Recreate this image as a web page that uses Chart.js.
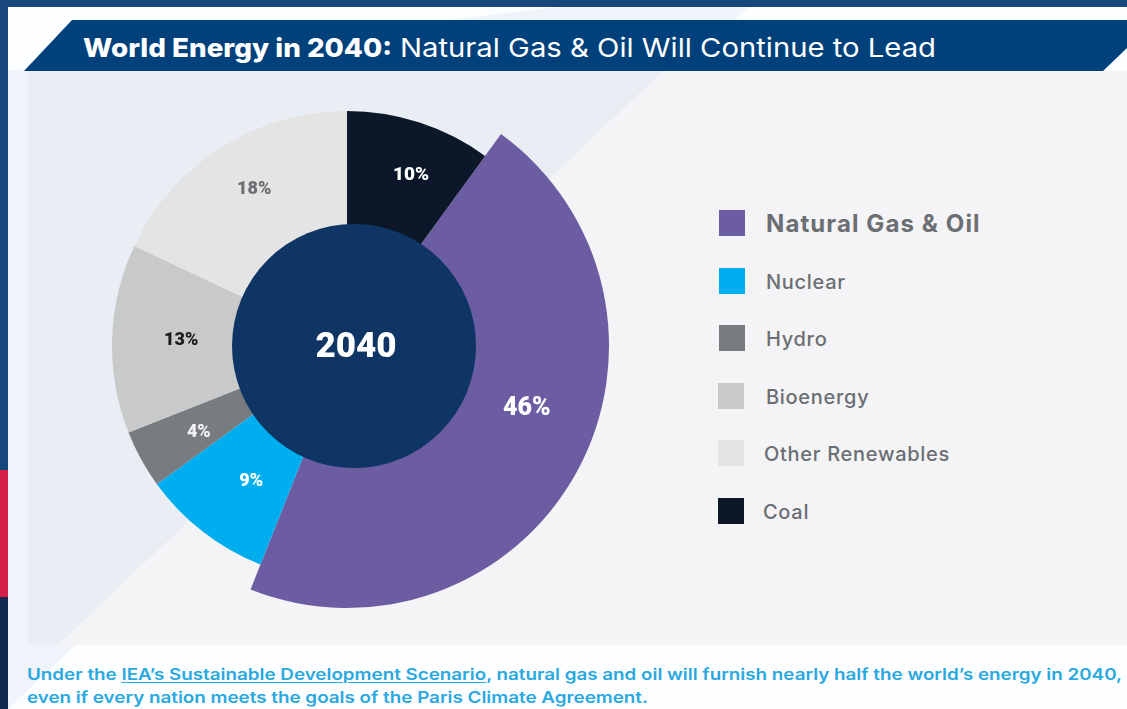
<!DOCTYPE html>
<html>
<head>
<meta charset="utf-8">
<script src="https://cdn.jsdelivr.net/npm/chart.js@4.4.0/dist/chart.umd.min.js"></script>
<style>
  html,body{margin:0;padding:0;}
  body{width:1127px;height:709px;overflow:hidden;position:relative;background:#fdfeff;font-family:Inter,"Open Sans",sans-serif;}
  .abs{position:absolute;}
  #tintOuter{left:8px;top:7px;width:1119px;height:702px;background:#eef4f9;clip-path:polygon(0 13px,60px 13px,0 80px);}
  #tintBand{left:8px;top:7px;width:1119px;height:702px;background:#eef4f9;clip-path:polygon(0 64px,552px 0,740px 0,0 702px);}
  #panel{left:28px;top:71px;width:1099px;height:574px;background:#f4f4f6;}
  #panelTint{left:28px;top:71px;width:1099px;height:574px;background:#e9eef4;clip-path:polygon(0 0,635px 0,30px 574px,0 574px);}
  #frameTop{left:0;top:0;width:1127px;height:7px;background:#17477c;}
  #frameLeft{left:0;top:0;width:8px;height:709px;background:#17477c;}
  #frameRed{left:0;top:470px;width:8px;height:127px;background:#d61f47;}
  #frameLow{left:0;top:597px;width:8px;height:112px;background:#11294e;}
  #banner{left:0;top:20px;width:1127px;height:51px;background:#00417b;clip-path:polygon(72px 0,1127px 0,1127px 28px,1103px 51px,24px 51px);}
  .fit{display:inline-block;white-space:nowrap;transform-origin:0 50%;}
  #titleB{left:83px;top:33px;font-size:26px;line-height:30px;font-weight:800;color:#fff;}
  #titleN{left:400px;top:33px;font-size:26px;line-height:30px;font-weight:400;color:#fff;}
  .note{left:27px;font-size:16px;line-height:20px;font-weight:600;color:#2aa8e0;}
  .note u{text-decoration-thickness:1px;text-underline-offset:2px;}
  #chartBox{left:47px;top:46px;width:600px;height:600px;}
  .sw{width:26px;height:26px;}
  .lg{color:#6b6e72;white-space:nowrap;}
</style>
</head>
<body>
<div id="tintBand" class="abs"></div>
<div id="panel" class="abs"></div>
<div id="panelTint" class="abs"></div>
<div id="frameTop" class="abs"></div>
<div id="frameLeft" class="abs"></div>
<div id="frameRed" class="abs"></div>
<div id="frameLow" class="abs"></div>
<div id="banner" class="abs"></div>
<div id="titleB" class="abs fit" data-w="309">World Energy in 2040:</div>
<div id="titleN" class="abs fit" data-w="536">Natural Gas &amp; Oil Will Continue to Lead</div>
<div id="chartBox" class="abs"><canvas id="c" width="600" height="600"></canvas></div>
<div id="legend"></div>
<div class="abs note fit" style="top:664px" data-w="1095">Under the <u>IEA’s Sustainable Development Scenario</u>, natural gas and oil will furnish nearly half the world’s energy in 2040,</div>
<div class="abs note fit" style="top:687px" data-w="621">even if every nation meets the goals of the Paris Climate Agreement.</div>

<script>
// ---- data ----
const categories = ['Natural Gas & Oil', 'Nuclear', 'Hydro', 'Bioenergy', 'Other Renewables', 'Coal'];
const shares = [46, 9, 4, 13, 18, 10];
const centerLabel = '2040';

// ---- styles ----
const colors = ['#6c5ca2', '#00aeef', '#787c81', '#c8c9c9', '#e4e4e5', '#0c1829'];
const sliceScale = [262 / 235, 1, 1, 1, 1, 1];
const labelFrac = [0.44, 0.43, 0.42, 0.51, 0.53, 0.57];
const labelRad = [190, 165, 171, 166, 183, 183];
const labelColor = ['#ffffff', '#ffffff', '#f2f2f2', '#1b1c1e', '#6d6e71', '#ffffff'];
const labelSize = [25, 18, 18, 18, 18, 19];

Chart.defaults.devicePixelRatio = 1;

const decor = {
  id: 'decor',
  afterDatasetUpdate(chart, args) {
    const meta = args.meta;
    meta.data.forEach((el, i) => { el.outerRadius = el.outerRadius * sliceScale[i]; });
  },
  afterDatasetsDraw(chart) {
    const ctx = chart.ctx;
    const meta = chart.getDatasetMeta(0);
    const cx = meta.data[0].x, cy = meta.data[0].y;
    ctx.save();
    ctx.fillStyle = '#0e3563';
    ctx.beginPath();
    ctx.arc(cx + 7, cy, 122, 0, Math.PI * 2);
    ctx.fill();
    ctx.fillStyle = '#ffffff';
    ctx.font = '900 35px Roboto';
    ctx.textAlign = 'center';
    ctx.textBaseline = 'middle';
    ctx.fillText(centerLabel, cx + 9, cy + 2);
    meta.data.forEach((el, i) => {
      const a = el.startAngle + (el.endAngle - el.startAngle) * labelFrac[i];
      const x = cx + Math.cos(a) * labelRad[i];
      const y = cy + Math.sin(a) * labelRad[i];
      ctx.fillStyle = labelColor[i];
      ctx.font = '900 ' + labelSize[i] + 'px Roboto';
      ctx.fillText(shares[i] + '%', x, y + 1);
    });
    ctx.restore();
  }
};

new Chart(document.getElementById('c'), {
  type: 'doughnut',
  data: {
    labels: categories,
    datasets: [{ data: shares, backgroundColor: colors, borderWidth: 0, hoverOffset: 0, clip: false }]
  },
  options: {
    responsive: false,
    animation: false,
    events: [],
    rotation: 36,
    cutout: 110,
    layout: { padding: 65 },
    plugins: { legend: { display: false }, tooltip: { enabled: false } }
  },
  plugins: [decor]
});

// ---- legend (HTML) ----
const legend = document.getElementById('legend');
categories.forEach((name, i) => {
  const yc = 223 + i * 57.6;
  const sw = document.createElement('div');
  sw.className = 'abs sw';
  sw.style.left = (i >= 3 ? 717.5 : 718.5) + 'px';
  sw.style.top = (yc - 13) + 'px';
  sw.style.background = colors[i];
  legend.appendChild(sw);
  const t = document.createElement('div');
  t.className = 'abs lg';
  const big = i === 0;
  t.style.fontSize = big ? '24px' : '20px';
  t.style.fontWeight = big ? '700' : '500';
  t.style.letterSpacing = big ? '1.1px' : '0.7px';
  t.style.lineHeight = '30px';
  t.style.top = (yc - 15 + 1) + 'px';
  t.style.left = (i === 4 ? 764 : i === 5 ? 763 : 766) + 'px';
  t.textContent = name;
  legend.appendChild(t);
});

// ---- fit text widths ----
document.querySelectorAll('.fit').forEach(el => {
  const w = el.getBoundingClientRect().width;
  const target = parseFloat(el.dataset.w);
  if (w > 0) el.style.transform = 'scaleX(' + (target / w) + ')';
});
</script>
</body>
</html>
